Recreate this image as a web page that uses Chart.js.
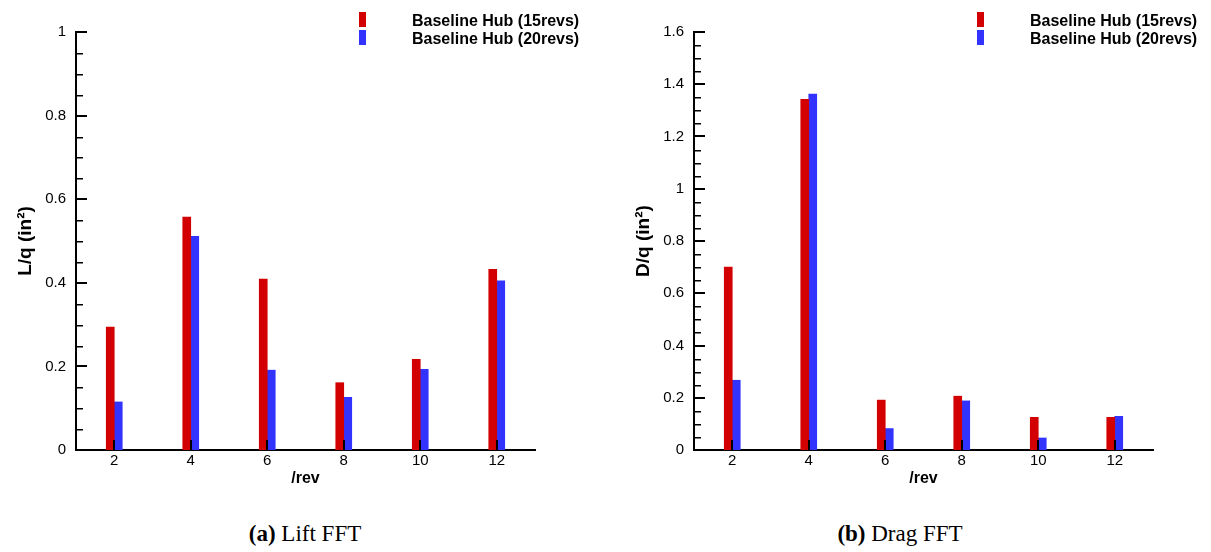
<!DOCTYPE html>
<html>
<head>
<meta charset="utf-8">
<script src="https://cdn.jsdelivr.net/npm/chart.js@4.4.1/dist/chart.umd.min.js"></script>
<style>
  body { margin: 0; background: #fff; width: 1211px; height: 552px; position: relative; overflow: hidden; }
  canvas { position: absolute; top: 0; }
  #lift { left: 0; }
  #drag { left: 618px; }
  .legend { position: absolute; top: 12px; font: bold 16px "Liberation Sans", Arial, sans-serif; line-height: 18px; color: #000; white-space: nowrap; }
  .legend .row { position: relative; height: 18px; }
  .legend .box { position: absolute; width: 7px; height: 15px; top: 0px; }
  .legend .txt { position: absolute; left: 53px; top: 0; }
  .caption { position: absolute; top: 522px; font: 23px "Liberation Serif", "Times New Roman", serif; line-height: 1; color: #000; white-space: nowrap; transform: translateX(-50%); }
</style>
</head>
<body>
<canvas id="lift" width="561" height="490"></canvas>
<canvas id="drag" width="561" height="490"></canvas>
<div class="legend" id="legLift" style="left:359px"></div>
<div class="legend" id="legDrag" style="left:977px"></div>
<div class="caption" style="left:305px"><b>(a)</b> Lift FFT</div>
<div class="caption" style="left:900px"><b>(b)</b> Drag FFT</div>
<script>
// harmonics (/rev)
const harmonics = [2, 4, 6, 8, 10, 12];
const seriesNames = ['Baseline Hub (15revs)', 'Baseline Hub (20revs)'];
const seriesColors = ['#d20000', '#3333ff'];

// L/q (in^2)
const lift15 = [0.294, 0.557, 0.409, 0.161, 0.217, 0.432];
const lift20 = [0.115, 0.511, 0.191, 0.126, 0.193, 0.405];

// D/q (in^2)
const drag15 = [0.700, 1.342, 0.191, 0.206, 0.125, 0.125];
const drag20 = [0.267, 1.362, 0.082, 0.188, 0.046, 0.129];

const liftTicks = [0, 0.2, 0.4, 0.6, 0.8, 1];
const dragTicks = [0, 0.2, 0.4, 0.6, 0.8, 1, 1.2, 1.4, 1.6];
const minorStep = 0.05;

const sans = '"Liberation Sans", Arial, sans-serif';

// ticks pointing into the plot, like the original Tecplot frames
const insideTicks = {
  id: 'insideTicks',
  afterDraw(chart) {
    const ctx = chart.ctx;
    const area = chart.chartArea;
    const x = chart.scales.x;
    const y = chart.scales.y;
    const n = Math.round(chart.options.scales.y.max / minorStep);
    ctx.save();
    ctx.fillStyle = '#000';
    for (let i = 1; i <= n; i++) {
      const py = Math.round(y.getPixelForValue(i * minorStep));
      if (i % 4 === 0) {
        ctx.fillRect(area.left, py - 1, 11, 2);
      } else {
        ctx.fillRect(area.left, py, 7, 1.5);
      }
    }
    harmonics.forEach(v => {
      const px = Math.round(x.getPixelForValue(v));
      ctx.fillRect(px - 1, area.bottom - 10, 2, 10);
    });
    ctx.restore();
  }
};

function buildLegend(id) {
  const el = document.getElementById(id);
  seriesNames.forEach((name, i) => {
    const row = document.createElement('div');
    row.className = 'row';
    row.innerHTML = `<span class="box" style="background:${seriesColors[i]}"></span><span class="txt">${name}</span>`;
    el.appendChild(row);
  });
}

function makeChart(canvasId, a, b, yMax, yTicks, yTitle) {
  const ctx = document.getElementById(canvasId).getContext('2d');
  return new Chart(ctx, {
    type: 'bar',
    data: {
      datasets: [a, b].map((vals, i) => ({
        label: seriesNames[i],
        data: harmonics.map((h, k) => ({ x: h, y: vals[k] })),
        backgroundColor: seriesColors[i],
        borderWidth: 0,
        barThickness: 8
      }))
    },
    options: {
      responsive: false,
      animation: false,
      layout: { padding: { top: 32, right: 26, bottom: 0, left: 0 } },
      plugins: { legend: { display: false }, tooltip: { enabled: false } },
      scales: {
        x: {
          type: 'linear',
          min: 1,
          max: 13,
          offset: false,
          grid: { display: false, drawTicks: false },
          border: { display: true, color: '#000', width: 2 },
          afterBuildTicks: s => { s.ticks = harmonics.map(v => ({ value: v })); },
          afterFit: s => { s.height = 40; },
          ticks: { color: '#000', font: { family: sans, size: 15 }, padding: 2 },
          title: { display: true, text: '/rev', color: '#000', font: { family: sans, size: 16, weight: 'bold' }, padding: { top: 0, bottom: 2 } }
        },
        y: {
          min: 0,
          max: yMax,
          grid: { display: false, drawTicks: false },
          border: { display: true, color: '#000', width: 2 },
          afterBuildTicks: s => { s.ticks = yTicks.map(v => ({ value: v })); },
          afterFit: s => { s.width = 76; },
          ticks: {
            color: '#000',
            font: { family: sans, size: 15 },
            padding: 10,
            callback: v => String(+Number(v).toFixed(2))
          },
          title: { display: true, text: yTitle, color: '#000', font: { family: sans, size: 19, weight: 'bold' }, padding: { top: 14, bottom: 0 } }
        }
      }
    },
    plugins: [insideTicks]
  });
}

buildLegend('legLift');
buildLegend('legDrag');
makeChart('lift', lift15, lift20, 1, liftTicks, 'L/q (in²)');
makeChart('drag', drag15, drag20, 1.6, dragTicks, 'D/q (in²)');
</script>
</body>
</html>
